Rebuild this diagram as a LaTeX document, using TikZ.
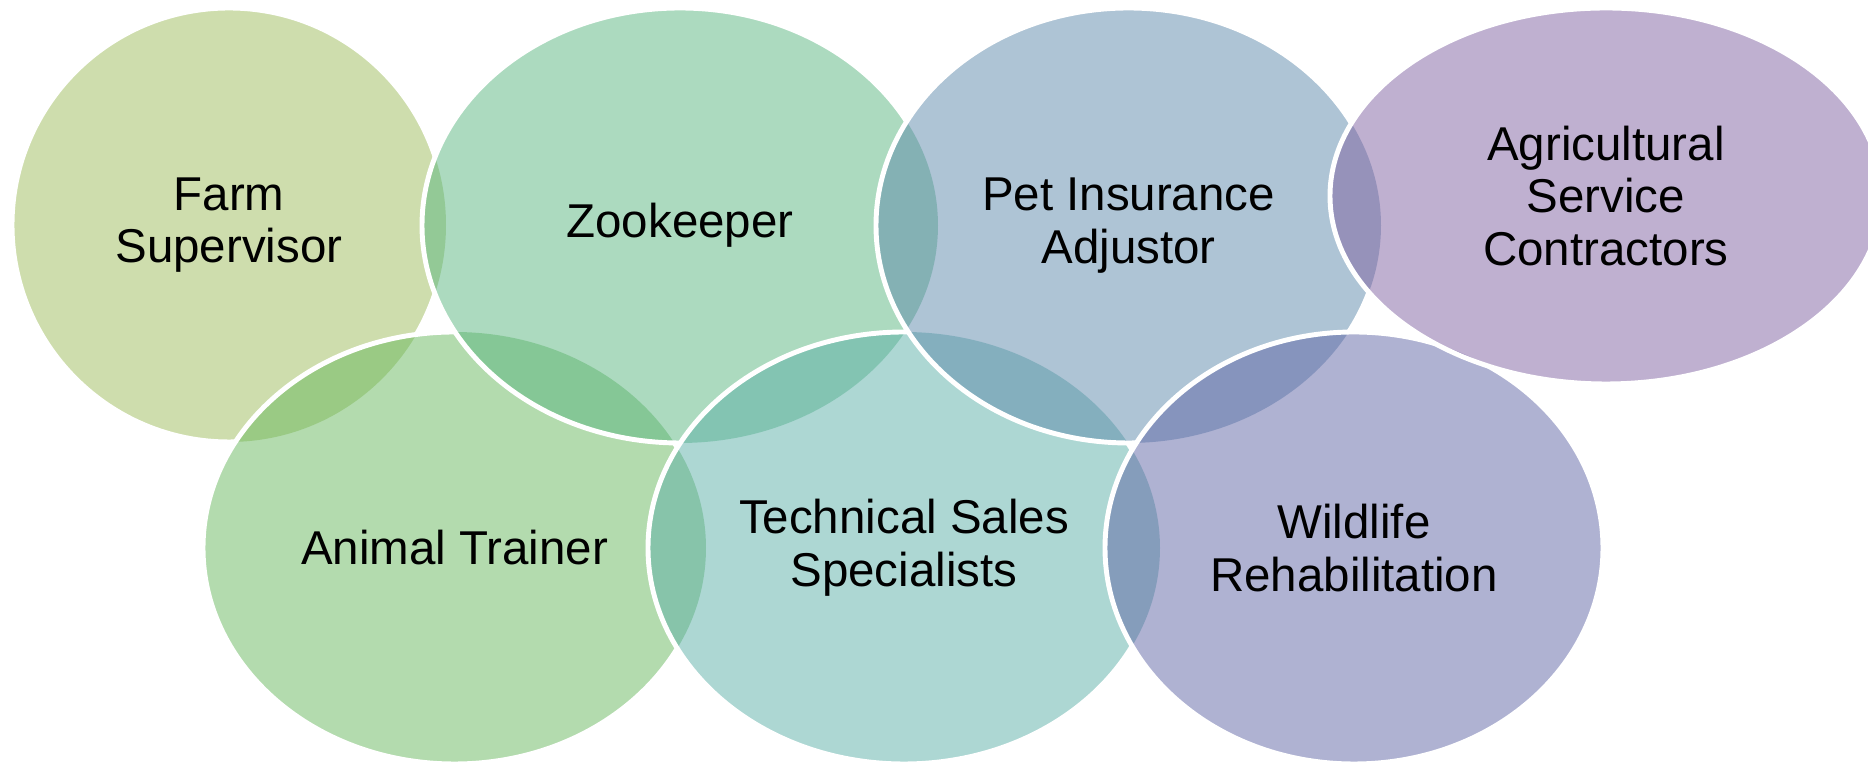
\documentclass[tikz,border=0pt]{standalone}
\usepackage{fontspec}
\setmainfont{Liberation Sans}

\definecolor{farmgreen}{RGB}{157,187,91}
\definecolor{zoogreen}{RGB}{89,181,127}
\definecolor{petblue}{RGB}{93,137,171}
\definecolor{agripurple}{RGB}{127,97,161}
\definecolor{animalgreen}{RGB}{103,183,93}
\definecolor{techteal}{RGB}{91,175,167}
\definecolor{wildblue}{RGB}{95,101,165}

\newcommand\farmring{(farm) ellipse [x radius=217, y radius=217]}
\newcommand\zooring{(zoo) ellipse [x radius=258, y radius=217.5]}
\newcommand\petring{(pet) ellipse [x radius=252.5, y radius=217.5]}
\newcommand\agriring{(agri) ellipse [x radius=276, y radius=188]}
\newcommand\animalring{(animal) ellipse [x radius=251.5, y radius=216]}
\newcommand\techring{(tech) ellipse [x radius=256, y radius=216]}
\newcommand\wildring{(wild) ellipse [x radius=249, y radius=216]}

\tikzset{
  ring/.style={fill opacity=.5},
  rim/.style={draw=white, line width=1.4pt},
  % clockwise frame, so a ring added to it cuts a hole
  cutaway/.style={clip,
    insert path={(-100,-100) -- (-100,900) -- (2000,900) -- (2000,-100) -- cycle}},
  jobtext/.style={align=center, font=\fontsize{13.5pt}{15pt}\selectfont}
}

\begin{document}
\begin{tikzpicture}[x=0.01cm, y=0.01cm]
  \useasboundingbox (0,0) rectangle (1868,764);

  \coordinate (farm)   at (229,539);
  \coordinate (zoo)    at (680,538.5);
  \coordinate (pet)    at (1128.5,538.5);
  \coordinate (agri)   at (1606,568);
  \coordinate (animal) at (454.5,216);
  \coordinate (tech)   at (904,216);
  \coordinate (wild)   at (1354,216);

  % fills, back to front
  \fill[ring, farmgreen] \farmring;
  \fill[ring, animalgreen] \animalring;
  \fill[ring, zoogreen] \zooring;
  \fill[ring, techteal] \techring;
  \fill[ring, petblue] \petring;
  \fill[ring, wildblue] \wildring;
  \fill[ring, agripurple] \agriring;

  % white rims, hidden where a later ring lies on top
  \begin{scope}
    \path[cutaway] \animalring;
    \path[cutaway] \zooring;
    \draw[rim] \farmring;
  \end{scope}
  \begin{scope}
    \path[cutaway] \zooring;
    \path[cutaway] \techring;
    \draw[rim] \animalring;
  \end{scope}
  \begin{scope}
    \path[cutaway] \techring;
    \path[cutaway] \petring;
    \draw[rim] \zooring;
  \end{scope}
  \begin{scope}
    \path[cutaway] \petring;
    \path[cutaway] \wildring;
    \draw[rim] \techring;
  \end{scope}
  \begin{scope}
    \path[cutaway] \wildring;
    \path[cutaway] \agriring;
    \draw[rim] \petring;
  \end{scope}
  \begin{scope}
    \path[cutaway] \agriring;
    \draw[rim] \wildring;
  \end{scope}
  \draw[rim] \agriring;

  \node[jobtext] (farm text)   at (farm)   {Farm\\Supervisor};
  \node[jobtext] (zoo text)    at (zoo)    {Zookeeper};
  \node[jobtext] (pet text)    at (pet)    {Pet Insurance\\Adjustor};
  \node[jobtext] (agri text)   at (agri)   {Agricultural\\Service\\Contractors};
  \node[jobtext] (animal text) at (animal) {Animal Trainer};
  \node[jobtext] (tech text)   at (tech)   {Technical Sales\\Specialists};
  \node[jobtext] (wild text)   at (wild)   {Wildlife\\Rehabilitation};
\end{tikzpicture}
\end{document}
